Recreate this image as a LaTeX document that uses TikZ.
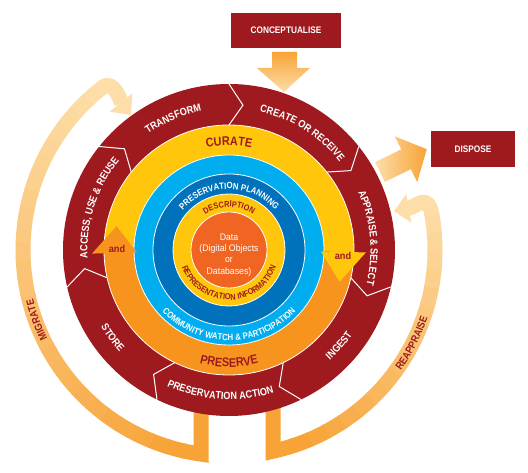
\documentclass[tikz,border=0pt]{standalone}
\usepackage{fontspec}
\setmainfont{Liberation Sans}
\newfontfamily\cond[FakeStretch=0.87]{Liberation Sans}
\newfontfamily\semicond[FakeStretch=0.92]{Liberation Sans}
\usetikzlibrary{decorations.text,arrows.meta}
\definecolor{dred}{RGB}{158,26,31}
\definecolor{cyel}{RGB}{255,198,11}
\definecolor{cora}{RGB}{247,148,30}
\definecolor{lblue}{RGB}{0,174,239}
\definecolor{dblue}{RGB}{0,114,188}
\definecolor{dorange}{RGB}{241,101,34}
\definecolor{arrOr}{RGB}{247,163,55}
\definecolor{arrPale}{RGB}{253,222,168}
\newcommand\ringtxt{\cond\bfseries\fontsize{10.5}{12}\selectfont\color{white}}
\newcommand\bigtxt{\cond\bfseries\fontsize{12.5}{14}\selectfont\color{dred}}
\newcommand\bluetxt{\cond\bfseries\fontsize{9}{11}\selectfont\color{white}}
\newcommand\desctxt{\cond\bfseries\fontsize{8.5}{10}\selectfont\color{dred}}
\newcommand\bandtxt{\cond\bfseries\fontsize{10.5}{12}\selectfont\color{dred}}
\tikzset{
  boxnode/.style={fill=dred, text=white, font=\cond\bfseries\fontsize{9.5}{11}\selectfont, inner sep=0pt},
  band/.style={line width=15pt},
  andtxt/.style={text=dred, font=\semicond\bfseries\fontsize{10}{12}\selectfont, inner sep=0pt},
  ringline/.style={draw=white, line width=0.8pt},
  curved/.style={decorate, decoration={text along path, text align=center, text={#1}}}
}
\begin{document}
\begin{tikzpicture}[x=1pt,y=1pt]
\useasboundingbox (0,0) rectangle (528,473);
\fill[white] (0,0) rectangle (528,473);

\begin{scope}[shift={(229,223)}]
% ---- MIGRATE band ----
\draw[band, arrOr, line join=miter] (-28,-150) -- (-28,-204.1) arc[start angle=-97.8, end angle=-103, radius=206];
\foreach \i in {0,...,25}{
  \pgfmathsetmacro\a{-102-5*\i}
  \pgfmathsetmacro\b{\a-5.4}
  \pgfmathsetmacro\p{\i*4}
  \draw[band, arrPale!\p!arrOr] (\a:206) arc[start angle=\a, end angle=\b, radius=206];
}
\coordinate (mtip) at (-98,135);
\draw[band, arrPale, -{Triangle[width=28pt,length=16pt]}] (128:206) to[out=38,in=129] (mtip);
% ---- REAPPRAISE band ----
\draw[band, arrOr, line join=miter] (44,-150) -- (44,-201.2) arc[start angle=-77.66, end angle=-71.5, radius=206];
\foreach \i in {0,...,15}{
  \pgfmathsetmacro\a{-72+5.125*\i}
  \pgfmathsetmacro\b{\a+5.5}
  \pgfmathsetmacro\p{\i*6.25}
  \draw[band, arrPale!\p!arrOr] (\a:206) arc[start angle=\a, end angle=\b, radius=206];
}
\coordinate (rtip) at (165,39);
\draw[band, arrPale, -{Triangle[width=28pt,length=15pt]}] (10:206) to[out=100,in=10,looseness=1.5] (rtip);
\path[curved={|\bandtxt|MIGRATE}] (-135:202) arc[start angle=-135, end angle=-185, radius=202];
\path[curved={|\bandtxt|REAPPRAISE}] (-60:210) arc[start angle=-60, end angle=6, radius=210];

% ---- outer red ring ----
\fill[dred] (0,0) circle (166);
\foreach \t in {90,38.571,-12.857,-64.286,-115.714,-167.143,141.429}
  \draw[white, line width=1pt, line join=miter] (\t:166) -- ({\t-5.5}:145.5) -- (\t:125);

% ---- curate / preserve ring ----
\fill[cyel] (181:125) arc[start angle=181, end angle=-1, radius=125] -- (-1:95) arc[start angle=-1, end angle=181, radius=95] -- cycle;
\fill[cora] (-1:125) arc[start angle=-1, end angle=-179, radius=125] -- (-179:95) arc[start angle=-179, end angle=-1, radius=95] -- cycle;
\draw[ringline] (0,0) circle (125);
\fill[lblue, ringline] (0,0) circle (95);
\fill[dblue, ringline] (0,0) circle (76);
\fill[cyel, ringline] (0,0) circle (56);
\fill[dorange, ringline] (0,0) circle (38);

% arrow heads "and"
\fill[cora] (181.5:92) -- (181.5:137) -- (168:115) -- cycle;
\fill[cyel] (-1:92) -- (-1:137) -- (-16:115) -- cycle;
\node[andtxt] (andl) at (-112,1) {and};
\node[andtxt] (andr) at (114,-6) {and};

% ---- ring texts ----
\path[curved={|\ringtxt|TRANSFORM}] (163:141.5) arc[start angle=163, end angle=63, radius=141.5];
\path[curved={|\ringtxt|CREATE OR RECEIVE}] (118:141.5) arc[start angle=118, end angle=-2, radius=141.5];
\path[curved={|\ringtxt|APPRAISE {\&} SELECT}] (60:141.5) arc[start angle=60, end angle=-50, radius=141.5];
\path[curved={|\ringtxt|ACCESS, USE {\&} REUSE}] (222:141.5) arc[start angle=222, end angle=102, radius=141.5];
\path[curved={|\ringtxt|INGEST}] (-100:149.5) arc[start angle=-100, end angle=18, radius=149.5];
\path[curved={|\ringtxt|PRESERVATION ACTION}] (-150:149.5) arc[start angle=-150, end angle=-37, radius=149.5];
\path[curved={|\ringtxt|STORE}] (-200:149.5) arc[start angle=-200, end angle=-86, radius=149.5];

\path[curved={|\bigtxt|CURATE}] (150:104.5) arc[start angle=150, end angle=30, radius=104.5];
\path[curved={|\bigtxt|PRESERVE}] (-150:117) arc[start angle=-150, end angle=-30, radius=117];
\path[curved={|\bluetxt|PRESERVATION PLANNING}] (180:61) arc[start angle=180, end angle=0, radius=61];
\path[curved={|\bluetxt|COMMUNITY WATCH {\&} PARTICIPATION}] (-178:90.5) arc[start angle=-178, end angle=-2, radius=90.5];
\path[curved={|\desctxt|DESCRIPTION}] (170:43) arc[start angle=170, end angle=10, radius=43];
\path[curved={|\desctxt|REPRESENTATION INFORMATION}] (-178:50) arc[start angle=-178, end angle=-2, radius=50];

\node[align=center, text=white, font=\semicond\fontsize{9.5}{11.3}\selectfont, inner sep=0pt] (data) at (0,-5) {Data\\(Digital Objects\\or\\Databases)};
\end{scope}

% ---- boxes and arrows ----
\node[boxnode, minimum width=110pt, minimum height=35pt] (concept) at (286,442.5) {CONCEPTUALISE};
\node[boxnode, minimum width=84pt, minimum height=36pt] (dispose) at (473,324) {DISPOSE};
\shade[top color=arrOr, bottom color=arrPale] (272,421) -- (297,421) -- (297,405) -- (310,405) -- (284,381) -- (257,405) -- (272,405) -- cycle;
\begin{scope}[shift={(380,301)}, rotate=26]
\shade[left color=arrPale, right color=arrOr] (0,-11) -- (29,-11) -- (29,-25.5) -- (52,0) -- (29,25.5) -- (29,11) -- (0,11) -- cycle;
\end{scope}
\end{tikzpicture}
\end{document}
